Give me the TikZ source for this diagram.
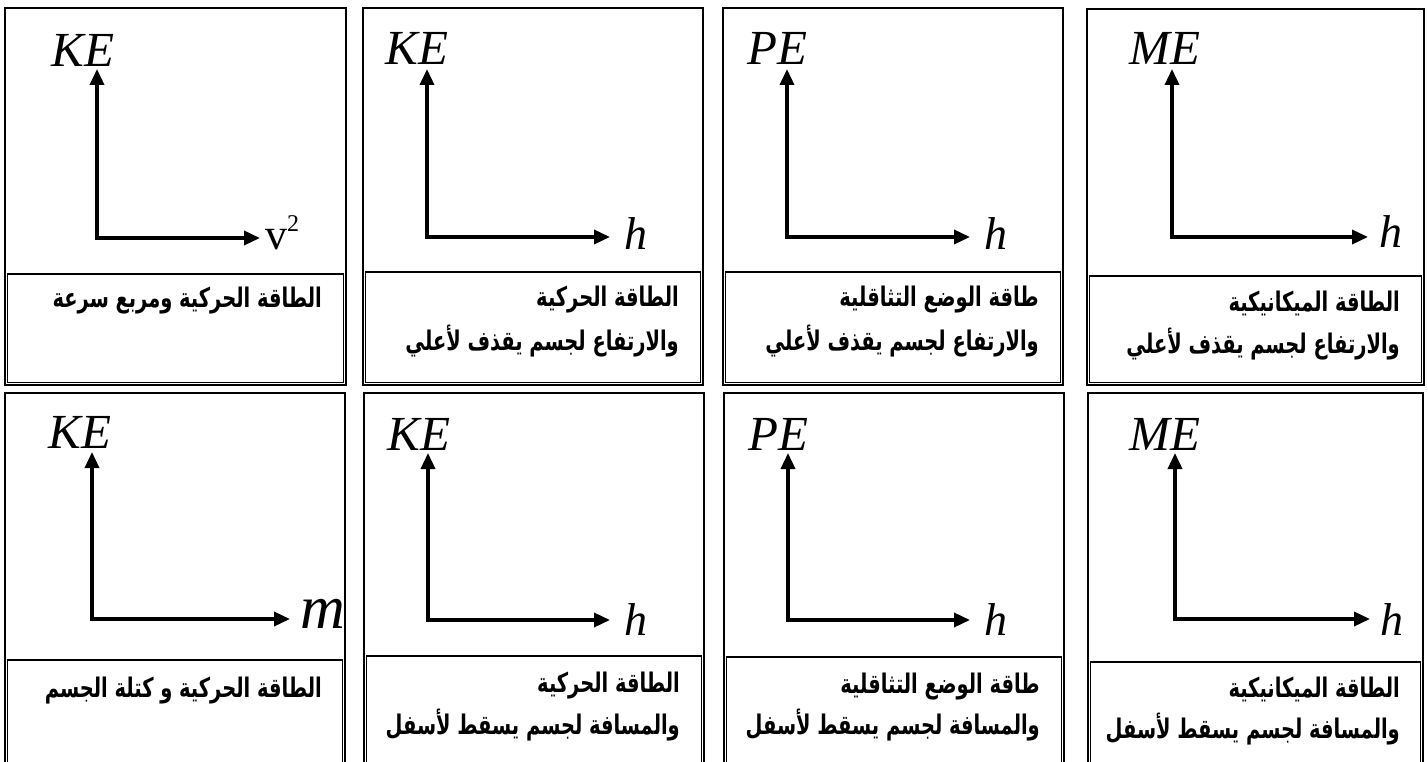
\documentclass[tikz,border=0pt]{standalone}
\usepackage{fontspec}
\TeXXeTstate=1
\usetikzlibrary{arrows.meta}
\newfontfamily\arabicfont[Script=Arabic,FakeStretch=0.72]{DejaVu Sans}
\newfontfamily\timesfont{Liberation Serif}

\tikzset{
  frame/.style={draw=black,line width=1.2pt},
  axis/.style={line width=3.5pt,line join=miter,
    {Triangle[length=16pt,width=14pt]}-{Triangle[length=16pt,width=14pt]}},
  qty/.style={font=\timesfont\itshape\fontsize{49}{49}\selectfont,inner sep=0pt,anchor=base},
  var/.style={font=\timesfont\itshape\fontsize{46}{46}\selectfont,inner sep=0pt,anchor=base west},
  caption/.style={font=\arabicfont\bfseries\fontsize{27}{30}\selectfont,inner sep=0pt,anchor=base east},
}

\begin{document}
\begin{tikzpicture}[x=1pt,y=-1pt]
  \clip (0,0) rectangle (1428,762);
  \fill[white] (0,0) rectangle (1428,762);

  % top row
  \draw[frame] (5,8) rectangle (346,385);
  \draw[frame] (7.5,274) rectangle (343.5,382.5);
  \coordinate (t1y) at (97,69);
  \coordinate (t1x) at (260,238);
  \draw[axis] (t1y) |- (t1x);
  \node[qty] (l1y) at (83,67) {KE};
  \node[var,font=\timesfont\fontsize{44}{44}\selectfont] (l1x) at (265,250)
    {v\raisebox{0.42em}{\fontsize{24}{24}\selectfont 2}};
  \node[caption] (c1a) at (322,308) {\beginR الطاقة الحركية ومربع سرعة\endR};

  \draw[frame] (363,8) rectangle (703,385);
  \draw[frame] (365.5,272) rectangle (700.5,382.5);
  \coordinate (t2y) at (427,69);
  \coordinate (t2x) at (610,237);
  \draw[axis] (t2y) |- (t2x);
  \node[qty] (l2y) at (417,65) {KE};
  \node[var] (l2x) at (624,250) {h};
  \node[caption] (c2a) at (679,307) {\beginR الطاقة الحركية\endR};
  \node[caption] (c2b) at (679,350) {\beginR والارتفاع لجسم يقذف لأعلي\endR};

  \draw[frame] (723,8) rectangle (1063,385);
  \draw[frame] (725.5,272) rectangle (1060.5,382.5);
  \coordinate (t3y) at (787,69);
  \coordinate (t3x) at (970,237);
  \draw[axis] (t3y) |- (t3x);
  \node[qty] (l3y) at (777,65) {PE};
  \node[var] (l3x) at (984,250) {h};
  \node[caption] (c3a) at (1039,307) {\beginR طاقة الوضع التثاقلية\endR};
  \node[caption] (c3b) at (1039,350) {\beginR والارتفاع لجسم يقذف لأعلي\endR};

  \draw[frame] (1087,9) rectangle (1424,385);
  \draw[frame] (1089.5,276) rectangle (1421.5,382.5);
  \coordinate (t4y) at (1172,69);
  \coordinate (t4x) at (1368,237);
  \draw[axis] (t4y) |- (t4x);
  \node[qty] (l4y) at (1165,65) {ME};
  \node[var] (l4x) at (1379,248) {h};
  \node[caption] (c4a) at (1400,312) {\beginR الطاقة الميكانيكية\endR};
  \node[caption] (c4b) at (1400,353) {\beginR والارتفاع لجسم يقذف لأعلي\endR};

  % bottom row
  \draw[frame] (5,393) rectangle (345,780);
  \draw[frame] (7.5,660) rectangle (342.5,777);
  \coordinate (t5y) at (92,452);
  \coordinate (t5x) at (290,619);
  \draw[axis] (t5y) |- (t5x);
  \node[qty] (l5y) at (80,448) {KE};
  \node[var,font=\timesfont\itshape\fontsize{62}{62}\selectfont] (l5x) at (300,628) {m};
  \node[caption] (c5a) at (322,697) {\beginR الطاقة الحركية و كتلة الجسم\endR};

  \draw[frame] (364,393) rectangle (704,780);
  \draw[frame] (366.5,656) rectangle (701.5,777);
  \coordinate (t6y) at (428,453);
  \coordinate (t6x) at (610,620);
  \draw[axis] (t6y) |- (t6x);
  \node[qty] (l6y) at (419,450) {KE};
  \node[var] (l6x) at (624,635) {h};
  \node[caption] (c6a) at (680,692) {\beginR الطاقة الحركية\endR};
  \node[caption] (c6b) at (680,734) {\beginR والمسافة لجسم يسقط لأسفل\endR};

  \draw[frame] (724,393) rectangle (1064,780);
  \draw[frame] (726.5,657) rectangle (1061.5,777);
  \coordinate (t7y) at (788,453);
  \coordinate (t7x) at (970,620);
  \draw[axis] (t7y) |- (t7x);
  \node[qty] (l7y) at (778,450) {PE};
  \node[var] (l7x) at (984,635) {h};
  \node[caption] (c7a) at (1040,693) {\beginR طاقة الوضع التثاقلية\endR};
  \node[caption] (c7b) at (1040,734) {\beginR والمسافة لجسم يسقط لأسفل\endR};

  \draw[frame] (1088,393) rectangle (1423,780);
  \draw[frame] (1090.5,662) rectangle (1420.5,777);
  \coordinate (t8y) at (1175,453);
  \coordinate (t8x) at (1370,619);
  \draw[axis] (t8y) |- (t8x);
  \node[qty] (l8y) at (1165,450) {ME};
  \node[var] (l8x) at (1380,635) {h};
  \node[caption] (c8a) at (1400,697) {\beginR الطاقة الميكانيكية\endR};
  \node[caption] (c8b) at (1400,738) {\beginR والمسافة لجسم يسقط لأسفل\endR};
\end{tikzpicture}
\end{document}
